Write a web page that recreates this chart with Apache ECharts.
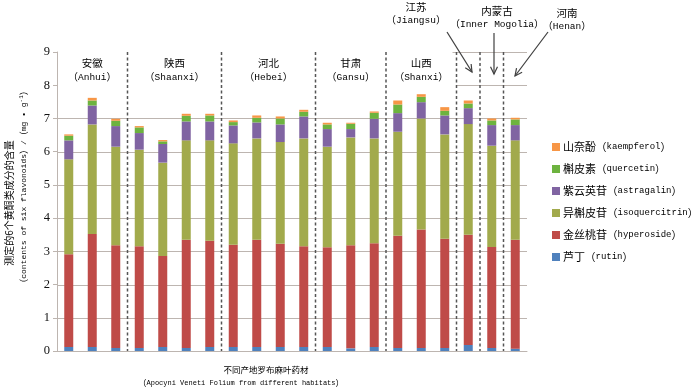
<!DOCTYPE html>
<html><head><meta charset="utf-8">
<script src="https://cdn.jsdelivr.net/npm/echarts@6/dist/echarts.min.js"></script>
<style>html,body{margin:0;padding:0;background:#fff}#c{width:700px;height:390px}</style>
</head><body><div id="c"></div>
<script>
// ---- data ----
const samples = ['AH1','AH2','AH3','SX1','SX2','SX3','SX4','HB1','HB2','HB3','HB4','GS1','GS2','GS3','SHX1','SHX2','SHX3','JS','NMG','HN'];
const regionCn = ['安徽','陕西','河北','甘肃','山西','江苏','内蒙古','河南'];
const regionEn = ['Anhui','Shaanxi','Hebei','Gansu','Shanxi','Jiangsu','Inner Mogolia','Henan'];
const regionCounts = [3,4,4,3,3,1,1,1];
const rutin        = [0.12,0.12,0.09, 0.09,0.12,0.09,0.12, 0.12,0.12,0.12,0.12, 0.12,0.08,0.12, 0.09,0.09,0.09, 0.18, 0.09, 0.07];
const hyperoside   = [2.79,3.40,3.09, 3.06,2.74,3.26,3.20, 3.08,3.23,3.11,3.03, 3.00,3.10,3.12, 3.38,3.57,3.29, 3.32, 3.04, 3.28];
const isoquercitrin= [2.86,3.30,2.97, 2.91,2.81,2.99,3.02, 3.05,3.05,3.06,3.25, 3.03,3.25,3.16, 3.13,3.34,3.14, 3.33, 3.05, 2.99];
const astragalin   = [0.57,0.57,0.62, 0.50,0.56,0.57,0.57, 0.54,0.48,0.53,0.66, 0.53,0.25,0.59, 0.56,0.49,0.57, 0.48, 0.62, 0.46];
const quercetin    = [0.14,0.15,0.16, 0.17,0.08,0.17,0.18, 0.10,0.14,0.18,0.14, 0.14,0.16,0.18, 0.26,0.16,0.14, 0.14, 0.14, 0.17];
const kaempferol   = [0.04,0.08,0.06, 0.04,0.04,0.06,0.05, 0.05,0.07,0.06,0.06, 0.05,0.03,0.04, 0.12,0.08,0.11, 0.09, 0.06, 0.05];
const seriesNames = ['芦丁（rutin）','金丝桃苷（hyperoside）','异槲皮苷（isoquercitrin）','紫云英苷（astragalin）','槲皮素（quercetin）','山奈酚（kaempferol）'];
const seriesColors = ['#4F81BD','#BF4B48','#A2AA4C','#8064A2','#6DB33F','#F79646'];
const yTickValues = [0,1,2,3,4,5,6,7,8,9];

const seriesData = [rutin, hyperoside, isoquercitrin, astragalin, quercetin, kaempferol];
const CJK = '"Noto Sans CJK SC"';
const MONO = '"Liberation Mono"';
const GRID_C = '#bdb5b0';

const chart = echarts.init(document.getElementById('c'), null, {renderer:'canvas'});
chart.setOption({
  animation:false,
  backgroundColor:'#fff',
  grid:{left:57, right:173, top:52, bottom:39, containLabel:false},
  legend:{
    orient:'vertical', left:552, top:140, padding:0, itemWidth:8, itemHeight:8, itemGap:8,
    icon:'rect', selectedMode:false,
    data: seriesNames.slice().reverse(),
    formatter: n => { const i = n.indexOf('（'); return '{c|'+n.slice(0,i)+'}{p|（}{e|'+n.slice(i+1,-1)+'}{p|）}'; },
    textStyle:{color:'#000', padding:[0,0,0,-2], rich:{
      c:{fontFamily:CJK, fontSize:11, color:'#000', height:14, lineHeight:14},
      p:{fontFamily:CJK, fontSize:10.5, color:'#000', height:14, lineHeight:14},
      e:{fontFamily:MONO, fontSize:9, color:'#000', height:14, lineHeight:14}
    }}
  },
  xAxis:{type:'category', data:samples, axisLine:{lineStyle:{color:GRID_C}}, axisTick:{show:false}, axisLabel:{show:false}},
  yAxis:{type:'value', min:yTickValues[0], max:yTickValues[yTickValues.length-1], interval:1,
    axisLine:{show:true, lineStyle:{color:GRID_C}},
    axisTick:{show:true, length:4, lineStyle:{color:GRID_C}},
    splitLine:{show:false},
    axisLabel:{fontFamily:'"Liberation Serif"', fontSize:12.5, color:'#111', margin:7}
  },
  series: seriesNames.map((n,k)=>({
    name:n, type:'bar', stack:'all', barWidth:9, data:seriesData[k],
    itemStyle:{color:seriesColors[k]}
  }))
});

// ---- annotations built from the chart's own scales ----
const P = (i,v) => chart.convertToPixel({gridIndex:0}, [i,v]);
const xc = i => P(i,0)[0];
const yv = v => P(0,v)[1];
const band = xc(1)-xc(0);
const xLeft = xc(0)-band/2, xRight = xc(samples.length-1)+band/2;
const g = [];
for (let v=1; v<=7; v++) g.push({type:'line', z:0, shape:{x1:xLeft, y1:Math.round(yv(v))+0.5, x2:xRight, y2:Math.round(yv(v))+0.5}, style:{stroke:GRID_C, lineWidth:1}});
const bnd = b => (xc(b-1)+xc(b))/2;
const bounds = []; let acc = 0;
regionCounts.forEach((c,i)=>{ acc += c; if (acc < samples.length) bounds.push(acc); });
const boxStart = bounds[bounds.length-3];
[8,9].forEach(v => g.push({type:'line', z:0, shape:{x1:bnd(boxStart)-(v===9?4:0), y1:Math.round(yv(v))+0.5, x2:xRight, y2:Math.round(yv(v))+0.5}, style:{stroke:GRID_C, lineWidth:1}}));
bounds.forEach(b => g.push({type:'line', z:10, shape:{x1:bnd(b), y1:yv(9), x2:bnd(b), y2:yv(0)}, style:{stroke:'#555', lineWidth:1.5, lineDash:[3,2.5]}}));
const rich = {
  p:{fontFamily:CJK, fontSize:10, color:'#000', lineHeight:14},
  e:{fontFamily:MONO, fontSize:9.5, color:'#000', lineHeight:14}
};
function label(x, y1, y2, i){
  g.push({type:'text', z:10, style:{x:x, y:y1, text:regionCn[i], font:'10.5px '+CJK, fill:'#000', align:'center', verticalAlign:'middle'}});
  g.push({type:'text', z:10, style:{x:x, y:y2, text:'{p|（}{e|'+regionEn[i]+'}{p|）}', rich:rich, align:'center', verticalAlign:'middle'}});
}
let start = 0;
regionCounts.forEach((c,i)=>{
  if (i < 5) label((xc(start)+xc(start+c-1))/2, 63, 77, i);
  start += c;
});
label(416, 7, 20, 5);
label(497, 11, 24, 6);
label(567, 13, 26, 7);
function arrow(x1,y1,x2,y2){
  const a = Math.atan2(y2-y1, x2-x1), L = 8, w = 0.45;
  g.push({type:'line', z:10, shape:{x1,y1,x2,y2}, style:{stroke:'#404040', lineWidth:1.2}});
  g.push({type:'polyline', z:10, shape:{points:[[x2-L*Math.cos(a-w), y2-L*Math.sin(a-w)],[x2,y2],[x2-L*Math.cos(a+w), y2-L*Math.sin(a+w)]]}, style:{stroke:'#404040', lineWidth:1.2, fill:null}});
}
arrow(447,32,472,72);
arrow(494,33,494,74);
arrow(548,32,515,76);
g.push({type:'text', z:10, x:9, y:203, rotation:Math.PI/2, style:{x:0, y:0, text:'测定的6个黄酮类成分的含量', font:'10px '+CJK, fill:'#000', align:'center', verticalAlign:'middle'}});
g.push({type:'text', z:10, x:24, y:187, rotation:Math.PI/2, style:{x:0, y:0,
  text:'{p|（}{e|contents of six flavonoids}{p|）}{e|/}{p|（}{e|mg • g}{s|-1}{p|）}',
  rich:{p:{fontFamily:CJK, fontSize:9, fill:'#000'}, e:{fontFamily:MONO, fontSize:8, fill:'#000'}, s:{fontFamily:MONO, fontSize:6, fill:'#000', verticalAlign:'top', padding:[0,0,5,0]}},
  align:'center', verticalAlign:'middle'}});
g.push({type:'text', z:10, style:{x:266, y:370, text:'不同产地罗布麻叶药材', font:'8.5px '+CJK, fill:'#000', align:'center', verticalAlign:'middle'}});
g.push({type:'text', z:10, style:{x:241, y:383, text:'{p|（}{e|Apocyni Veneti Folium from different habitats}{p|）}',
  rich:{p:{fontFamily:CJK, fontSize:8.5, fill:'#000'}, e:{fontFamily:MONO, fontSize:7, fill:'#000'}}, align:'center', verticalAlign:'middle'}});
chart.setOption({graphic:{elements:g}});
</script></body></html>
